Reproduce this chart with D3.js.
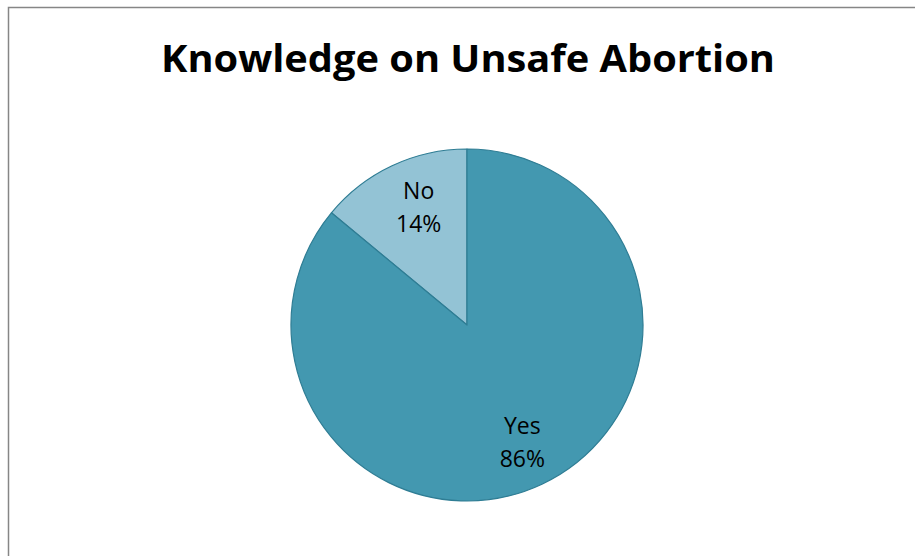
<!DOCTYPE html>
<html>
<head>
<meta charset="utf-8">
<script src="https://cdn.jsdelivr.net/npm/d3@7/dist/d3.min.js"></script>
<style>
  html, body { margin: 0; padding: 0; background: #ffffff; }
  svg { display: block; }
</style>
</head>
<body>
<script>
// Survey answers and their shares (percent)
const categories = ["No", "Yes"];
const values = [14, 86];
const sliceColors = ["#93c3d5", "#4398b0"];
const title = "Knowledge on Unsafe Abortion";

const width = 915, height = 556;
const cx = 467, cy = 325, radius = 176;

const svg = d3.select("body").append("svg")
  .attr("width", width)
  .attr("height", height);

// chart frame (only top and left edges fall inside the view)
svg.append("rect")
  .attr("x", 8.5).attr("y", 7.5)
  .attr("width", width + 20).attr("height", height + 20)
  .attr("fill", "#ffffff")
  .attr("stroke", "#868686")
  .attr("stroke-width", 1.5);

// title, condensed to span its box
svg.append("text")
  .attr("x", 468).attr("y", 72)
  .attr("text-anchor", "middle")
  .attr("font-family", "'Open Sans', sans-serif")
  .attr("font-weight", "bold")
  .attr("font-size", 37)
  .attr("textLength", 614)
  .attr("lengthAdjust", "spacingAndGlyphs")
  .attr("fill", "#000000")
  .text(title);

const data = categories.map((c, i) => ({ category: c, value: values[i], color: sliceColors[i] }));

// "No" slice runs counter-clockwise from 12 o'clock, "Yes" fills the rest
const share0 = values[0] / d3.sum(values);
const pie = d3.pie()
  .value(d => d.value)
  .sort(null)
  .startAngle(-2 * Math.PI * share0)
  .endAngle(2 * Math.PI - 2 * Math.PI * share0);

const arc = d3.arc().innerRadius(0).outerRadius(radius);
const labelArc = d3.arc().innerRadius(260).outerRadius(0);

const g = svg.append("g").attr("transform", `translate(${cx},${cy})`);
const arcs = pie(data);

g.selectAll("path.slice")
  .data(arcs)
  .join("path")
  .attr("class", "slice")
  .attr("d", arc)
  .attr("fill", d => d.data.color)
  .attr("stroke", "#2f7d94")
  .attr("stroke-width", 1.2)
  .attr("stroke-linejoin", "round");

const labels = g.selectAll("text.lbl")
  .data(arcs)
  .join("text")
  .attr("class", "lbl")
  .attr("text-anchor", "middle")
  .attr("font-family", "'Open Sans', sans-serif")
  .attr("font-size", 23)
  .attr("fill", "#000000")
  .attr("transform", (d, i) => {
    const [x, y] = labelArc.centroid(d);
    // the narrow slice's label sits a little nearer its right edge
    return `translate(${x + (i === 0 ? 7 : 0)},${y})`;
  });

labels.append("tspan")
  .attr("x", 0).attr("dy", "-0.38em")
  .text(d => d.data.category);
labels.append("tspan")
  .attr("x", 0).attr("dy", "1.45em")
  .text(d => d.data.value + "%");
</script>
</body>
</html>
